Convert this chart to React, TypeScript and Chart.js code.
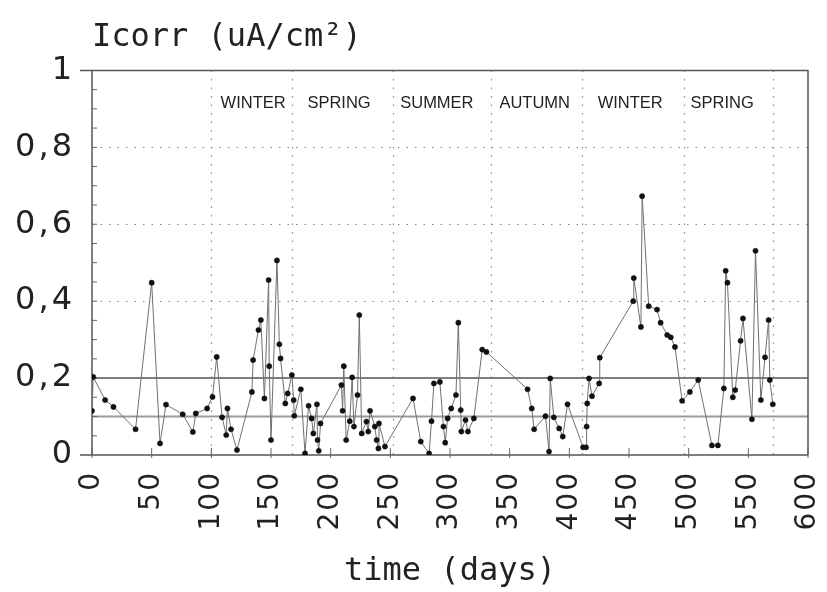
import React, { useEffect, useRef } from 'react';
import { Chart, registerables } from 'chart.js';

Chart.register(...registerables);

// ---- data ----
const days = [
  0, 1, 11, 18, 36.5, 50, 57, 62, 76, 84.5, 87, 96.5, 101, 104.5, 109, 112.5, 113.5, 116.5, 121.5,
  134, 135, 139.5, 141.5, 144.5, 148, 148.5, 150, 155, 157, 158, 162, 164, 167.5, 169, 169.5, 175,
  178.5, 181.5, 184, 185.5, 188.5, 189, 190, 191.5, 209, 210, 211, 213, 216, 218, 219.5, 222.5, 224,
  226, 230, 231.5, 233, 237, 238.5, 240, 240.5, 245.5, 269, 275.5, 282.5, 284.5, 286.5, 291.5, 294.5,
  296, 298, 301, 305, 307, 309, 309.5, 313, 315, 320, 327, 330.5, 365, 368.5, 370.5, 380, 383, 384,
  387, 391.5, 394.5, 398.5, 411.5, 414, 414.5, 415, 416.5, 419, 425, 425.5, 453.5, 454, 460, 461,
  466.5, 473.5, 476.5, 482, 485, 488.5, 494.5, 501, 508, 519.5, 524.5, 529.5, 531, 532.5, 537, 539,
  543.5, 545.5, 553, 556, 560.5, 564, 567, 568, 570.5,
];
const icorr = [
  0.115, 0.203, 0.143, 0.125, 0.067, 0.448, 0.03, 0.131, 0.106, 0.06, 0.108, 0.121, 0.151, 0.255, 0.098, 0.052, 0.121, 0.067, 0.013,
  0.164, 0.247, 0.325, 0.351, 0.147, 0.455, 0.231, 0.039, 0.506, 0.288, 0.251, 0.134, 0.16, 0.208, 0.143, 0.102, 0.171,
  0.004, 0.128, 0.095, 0.056, 0.132, 0.039, 0.011, 0.082, 0.182, 0.115, 0.231, 0.039, 0.088, 0.202, 0.074, 0.156, 0.364,
  0.056, 0.087, 0.061, 0.115, 0.074, 0.039, 0.017, 0.082, 0.022, 0.147, 0.035, 0.004, 0.088, 0.186, 0.19, 0.074,
  0.032, 0.095, 0.121, 0.156, 0.344, 0.117, 0.061, 0.091, 0.061, 0.095, 0.274, 0.268, 0.171, 0.121, 0.067, 0.101, 0.009, 0.199,
  0.098, 0.069, 0.048, 0.132, 0.02, 0.02, 0.074, 0.134, 0.199, 0.153, 0.186, 0.253, 0.4, 0.46, 0.333, 0.673,
  0.387, 0.378, 0.344, 0.312, 0.306, 0.281, 0.141, 0.164, 0.195, 0.025, 0.025, 0.173, 0.479, 0.448, 0.15, 0.169,
  0.297, 0.355, 0.093, 0.531, 0.143, 0.254, 0.351, 0.195, 0.132,
];

const yTickLabels = ['0', '0,2', '0,4', '0,6', '0,8', '1'];
const seasonNames = ['WINTER', 'SPRING', 'SUMMER', 'AUTUMN', 'WINTER', 'SPRING'];
const seasonLabelDays = [135, 207, 289, 371, 451, 528];
const seasonBoundaries = [100, 168, 252, 334, 411, 496, 571];
const referenceLevels = [0.1, 0.2];
const gridLevels = [0.4, 0.6, 0.8];

const X_SPACING = '2px';
const Y_SPACING = '3px';

const spacingPlugin = {
  id: 'tickSpacing',
  beforeDraw(chart: any) {
    const pairs: [string, string][] = [['x', X_SPACING], ['y', Y_SPACING]];
    for (const [id, sp] of pairs) {
      const s: any = chart.scales[id];
      if (s && !s.__patched) {
        const orig = s.drawLabels;
        s.drawLabels = function (area: any) {
          const c: any = this.ctx;
          const prev = c.letterSpacing;
          c.letterSpacing = sp;
          orig.call(this, area);
          c.letterSpacing = prev || '0px';
        };
        s.__patched = true;
      }
    }
  },
};

const decorPlugin = {
  id: 'decor',
  beforeDatasetsDraw(chart: any) {
    const { ctx, chartArea: a, scales } = chart;
    const x = scales.x;
    const y = scales.y;
    ctx.save();
    // dotted horizontal grid
    ctx.strokeStyle = '#8a8a8a';
    ctx.lineWidth = 1.2;
    ctx.setLineDash([1.5, 7]);
    for (const v of gridLevels) {
      const py = Math.round(y.getPixelForValue(v)) + 0.5;
      ctx.beginPath();
      ctx.moveTo(a.left, py);
      ctx.lineTo(a.right, py);
      ctx.stroke();
    }
    // dotted season boundaries
    for (const d of seasonBoundaries) {
      const px = Math.round(x.getPixelForValue(d)) + 0.5;
      ctx.beginPath();
      ctx.moveTo(px, a.top);
      ctx.lineTo(px, a.bottom);
      ctx.stroke();
    }
    ctx.setLineDash([]);
    // reference levels
    referenceLevels.forEach((v, i) => {
      const py = y.getPixelForValue(v);
      ctx.strokeStyle = i === 0 ? '#9a9a9a' : '#555';
      ctx.lineWidth = i === 0 ? 2 : 1.5;
      ctx.beginPath();
      ctx.moveTo(a.left, py);
      ctx.lineTo(a.right, py);
      ctx.stroke();
    });
    // frame
    ctx.strokeStyle = '#555';
    ctx.lineWidth = 1.5;
    ctx.beginPath();
    ctx.moveTo(a.left - 12, a.top);
    ctx.lineTo(a.right, a.top);
    ctx.lineTo(a.right, a.bottom);
    ctx.moveTo(a.left - 12, a.bottom);
    ctx.lineTo(a.right, a.bottom);
    ctx.moveTo(a.left, a.top);
    ctx.lineTo(a.left, a.bottom);
    ctx.stroke();
    // minor ticks
    ctx.lineWidth = 1;
    ctx.strokeStyle = '#666';
    for (let v = 0.05; v < 1; v += 0.05) {
      const py = y.getPixelForValue(v);
      ctx.beginPath();
      ctx.moveTo(a.left, py);
      ctx.lineTo(a.left + 5, py);
      ctx.stroke();
    }
    for (const t of x.ticks) {
      const px = x.getPixelForValue(t.value);
      ctx.beginPath();
      ctx.moveTo(px, a.bottom - 7);
      ctx.lineTo(px, a.bottom + 3);
      ctx.stroke();
    }
    ctx.restore();
  },
  afterDraw(chart: any) {
    const { ctx, chartArea: a, scales } = chart;
    ctx.save();
    ctx.fillStyle = '#222';
    ctx.font = '16.5px "Liberation Sans", Arial, sans-serif';
    ctx.textAlign = 'center';
    ctx.textBaseline = 'middle';
    seasonNames.forEach((n, i) => {
      ctx.fillText(n, scales.x.getPixelForValue(seasonLabelDays[i]), a.top + 33);
    });
    ctx.restore();
  },
};

export default function App() {
  const ref = useRef<HTMLCanvasElement | null>(null);
  useEffect(() => {
    if (!ref.current) return;
    const points = days.map((d, i) => ({ x: d, y: icorr[i] }));
    const chart = new Chart(ref.current, {
      type: 'line',
      data: {
        datasets: [
          {
            label: 'Icorr',
            data: points,
            borderColor: '#707070',
            borderWidth: 1,
            pointRadius: 2.6,
            pointStyle: 'circle',
            pointBackgroundColor: '#111',
            pointBorderColor: '#111',
            pointBorderWidth: 0.5,
            tension: 0,
            fill: false,
          },
        ],
      },
      options: {
        animation: false,
        responsive: false,
        devicePixelRatio: 1,
        layout: { autoPadding: false, padding: { left: 0, right: 19, top: 0, bottom: 0 } },
        plugins: {
          legend: { display: false },
          tooltip: { enabled: false },
          title: {
            display: true,
            text: 'Icorr (uA/cm²)',
            align: 'start',
            fullSize: false,
            color: '#222',
            font: { family: '"DejaVu Sans Mono", monospace', size: 32, weight: 'normal' },
            padding: { top: 18, bottom: 14 },
          },
        },
        scales: {
          x: {
            type: 'linear',
            min: 0,
            max: 600,
            grid: { display: false },
            border: { display: false },
            ticks: {
              stepSize: 50,
              autoSkip: false,
              minRotation: 90,
              maxRotation: 90,
              padding: 8,
              color: '#222',
              font: { family: '"DejaVu Sans", sans-serif', size: 28 },
            },
            title: {
              display: true,
              text: 'time (days)',
              color: '#222',
              font: { family: '"DejaVu Sans Mono", monospace', size: 32, weight: 'normal' },
              padding: { top: 0, bottom: 1 },
            },
            afterFit: (s: any) => {
              s.height = 137;
              s.paddingLeft = 0;
              s.paddingRight = 0;
            },
          },
          y: {
            min: 0,
            max: 1,
            grid: { display: false },
            border: { display: false },
            ticks: {
              stepSize: 0.2,
              padding: 9,
              color: '#222',
              font: { family: '"DejaVu Sans", sans-serif', size: 32 },
              callback: (v: any) => yTickLabels[Math.round(Number(v) / 0.2)] ?? '',
            },
            afterFit: (s: any) => {
              s.width = 92;
              s.paddingTop = 0;
              s.paddingBottom = 0;
            },
          },
        },
      },
      plugins: [spacingPlugin, decorPlugin],
    } as any);
    return () => chart.destroy();
  }, []);
  return (
    <div style={{ position: 'fixed', left: 0, top: 0, width: 827, height: 592, background: '#fff' }}>
      <canvas ref={ref} width={827} height={592} />
    </div>
  );
}
